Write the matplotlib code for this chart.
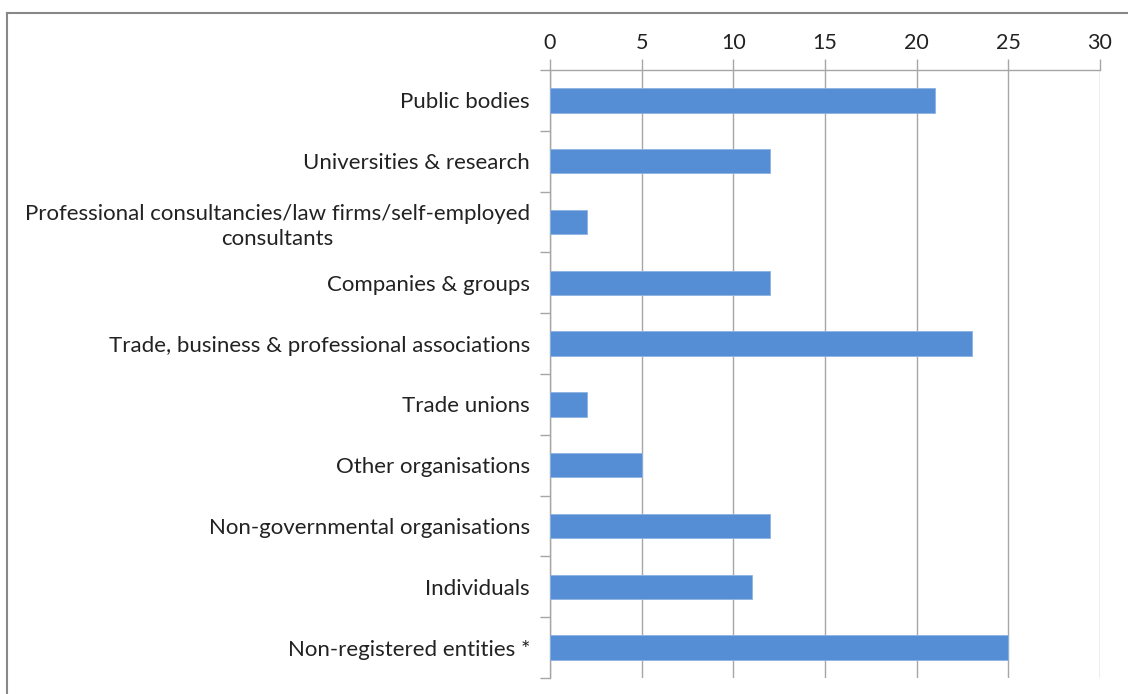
import numpy as np
import matplotlib
matplotlib.use("Agg")
import matplotlib.pyplot as plt
from matplotlib.lines import Line2D

categories = ["Public bodies", "Universities & research",
              "Professional consultancies/law firms/self-employed\nconsultants",
              "Companies & groups", "Trade, business & professional associations",
              "Trade unions", "Other organisations", "Non-governmental organisations",
              "Individuals", "Non-registered entities *"]
values = [21, 12, 2, 12, 23, 2, 5, 12, 11, 25]
xticks = [0, 5, 10, 15, 20, 25, 30]

plt.rcParams['font.family'] = ['Lato', 'DejaVu Sans']

fig = plt.figure(figsize=(11.28, 6.94), dpi=100, facecolor='w')
ax = fig.add_axes([550/1128, 1 - 678/694, 550/1128, (678 - 70)/694])

gray = '#a6a6a6'
y = np.arange(len(categories))
ax.barh(y, values, height=0.4, color='#558ed5', edgecolor='#8db3e2', linewidth=0.6, zorder=3)

ax.set_xlim(0, 30)
ax.set_ylim(len(categories) - 0.5, -0.5)
ax.set_xticks(xticks)
ax.xaxis.tick_top()
ax.tick_params(axis='x', direction='out', length=8, width=1, color=gray,
               labelsize=15.5, labelcolor='#222222', pad=4)
ax.set_yticks(y)
ax.set_yticklabels(categories, ha='right', multialignment='center', fontsize=16,
                   color='#222222', linespacing=1.3)
ax.tick_params(axis='y', which='major', length=0, pad=14.4)
ax.set_yticks(np.arange(-0.5, len(categories)), minor=True)
ax.tick_params(axis='y', which='minor', direction='out', length=7, width=1, color=gray)
ax.grid(axis='x', color=gray, linewidth=1, zorder=0)

for s in ['right', 'bottom']:
    ax.spines[s].set_visible(False)
for s in ['top', 'left']:
    ax.spines[s].set_color(gray)
    ax.spines[s].set_linewidth(1)

# outer chart border
fig.add_artist(Line2D([7/1128, 7/1128], [0, 1 - 13/694], color='#888888', lw=1.5))
fig.add_artist(Line2D([7/1128, 1], [1 - 13/694, 1 - 13/694], color='#888888', lw=1.5))

fig.savefig("out.png", dpi=100, facecolor='w')
